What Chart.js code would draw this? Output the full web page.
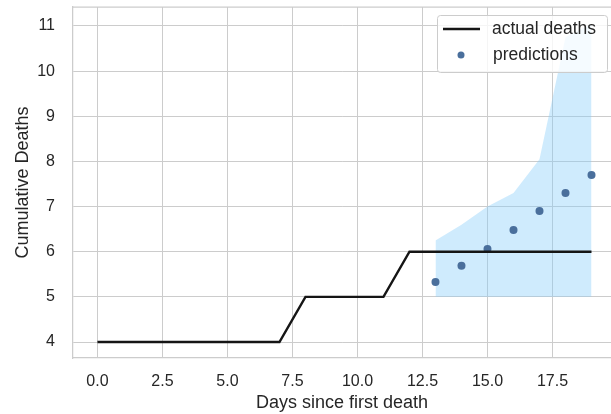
<!DOCTYPE html>
<html>
<head>
<meta charset="utf-8">
<script src="https://cdn.jsdelivr.net/npm/chart.js@4.4.1/dist/chart.umd.min.js"></script>
<style>
  html, body { margin: 0; padding: 0; background: #fff; overflow: hidden; }
  #wrap { width: 611px; height: 414px; overflow: hidden; }
</style>
</head>
<body>
<div id="wrap"><canvas id="chart" width="615" height="414"></canvas></div>
<script>
// observed cumulative deaths per day
const DAYS = [0, 1, 2, 3, 4, 5, 6, 7, 8, 9, 10, 11, 12, 13, 14, 15, 16, 17, 18, 19];
const ACTUAL_DEATHS = [4, 4, 4, 4, 4, 4, 4, 4, 5, 5, 5, 5, 6, 6, 6, 6, 6, 6, 6, 6];

// model predictions with their interval
const PRED_DAYS = [13, 14, 15, 16, 17, 18, 19];
const PREDICTIONS = [5.33, 5.69, 6.06, 6.48, 6.90, 7.30, 7.70];
const PRED_LOWER = [5, 5, 5, 5, 5, 5, 5];
const PRED_UPPER = [6.25, 6.6, 7.0, 7.3, 8.05, 10.75, 11.05];

const X_TICKS = [0, 2.5, 5, 7.5, 10, 12.5, 15, 17.5];
const Y_TICKS = [4, 5, 6, 7, 8, 9, 10, 11];

const FONT = "'Liberation Sans', Arial, sans-serif";
const TEXT_COLOR = '#262626';
const GRID_COLOR = '#cccccc';

function toPoints(xs, ys){
    return xs.map((x, i) => ({x: x, y: ys[i]}));
}

// top spine, matplotlib style
const topSpine = {
    id: 'topSpine',
    afterDatasetsDraw(chart){
        const ctx = chart.ctx;
        const area = chart.chartArea;
        ctx.save();
        ctx.strokeStyle = GRID_COLOR;
        ctx.lineWidth = 1.25;
        ctx.beginPath();
        ctx.moveTo(area.left, area.top);
        ctx.lineTo(area.right, area.top);
        ctx.stroke();
        ctx.restore();
    }
};

// boxed legend in the upper right corner
const boxLegend = {
    id: 'boxLegend',
    afterDraw(chart){
        const ctx = chart.ctx;
        const line = chart.data.datasets[0];
        const dots = chart.data.datasets[1];
        ctx.save();
        ctx.beginPath();
        ctx.roundRect(437.5, 15.5, 170, 57, 3);
        ctx.fillStyle = 'rgba(255,255,255,0.8)';
        ctx.fill();
        ctx.strokeStyle = GRID_COLOR;
        ctx.lineWidth = 1;
        ctx.stroke();

        ctx.strokeStyle = line.borderColor;
        ctx.lineWidth = line.borderWidth;
        ctx.beginPath();
        ctx.moveTo(443, 29);
        ctx.lineTo(480, 29);
        ctx.stroke();

        ctx.fillStyle = dots.backgroundColor;
        ctx.beginPath();
        ctx.arc(461, 55, 3.5, 0, Math.PI * 2);
        ctx.fill();

        ctx.fillStyle = TEXT_COLOR;
        ctx.font = '17.5px ' + FONT;
        ctx.textBaseline = 'middle';
        ctx.fillText(line.label, 492, 29);
        ctx.fillText(dots.label, 493, 55);
        ctx.restore();
    }
};

const chart = new Chart(document.getElementById('chart'), {
    type: 'line',
    data: {
        datasets: [
            {
                label: 'actual deaths',
                data: toPoints(DAYS, ACTUAL_DEATHS),
                borderColor: '#151515',
                borderWidth: 2.4,
                pointRadius: 0,
                fill: false,
                order: 0
            },
            {
                type: 'scatter',
                label: 'predictions',
                data: toPoints(PRED_DAYS, PREDICTIONS),
                backgroundColor: '#4a6f9c',
                borderWidth: 0,
                pointRadius: 4,
                order: 1
            },
            {
                label: 'lower',
                data: toPoints(PRED_DAYS, PRED_LOWER),
                borderWidth: 0,
                pointRadius: 0,
                fill: false,
                order: 2
            },
            {
                label: 'upper',
                data: toPoints(PRED_DAYS, PRED_UPPER),
                borderWidth: 0,
                pointRadius: 0,
                backgroundColor: 'rgba(135,206,250,0.4)',
                fill: '-1',
                order: 3
            }
        ]
    },
    options: {
        responsive: false,
        animation: false,
        devicePixelRatio: 1,
        layout: { padding: { top: 7, right: 0, left: 0, bottom: 0 } },
        plugins: {
            legend: { display: false },
            tooltip: { enabled: false }
        },
        scales: {
            x: {
                type: 'linear',
                min: -0.94,
                max: 19.75,
                afterBuildTicks: s => { s.ticks = X_TICKS.map(v => ({value: v})); },
                afterFit: s => {
                    s.height = 56;
                    s.paddingLeft = 0;
                    s.paddingRight = 0;
                },
                ticks: {
                    callback: v => v.toFixed(1),
                    font: { family: FONT, size: 16 },
                    color: TEXT_COLOR,
                    padding: 14,
                    maxRotation: 0
                },
                grid: { color: GRID_COLOR, lineWidth: 1, drawTicks: false },
                border: { color: GRID_COLOR, width: 1.25 },
                title: {
                    display: true,
                    text: 'Days since first death',
                    font: { family: FONT, size: 18 },
                    color: TEXT_COLOR,
                    padding: { top: 0, bottom: 0 }
                }
            },
            y: {
                min: 3.646,
                max: 11.42,
                afterBuildTicks: s => { s.ticks = Y_TICKS.map(v => ({value: v})); },
                afterFit: s => {
                    s.width = 73;
                    s.paddingTop = 0;
                    s.paddingBottom = 0;
                },
                ticks: {
                    font: { family: FONT, size: 16 },
                    color: TEXT_COLOR,
                    padding: 18
                },
                grid: { color: GRID_COLOR, lineWidth: 1, drawTicks: false },
                border: { color: GRID_COLOR, width: 1.25 },
                title: {
                    display: true,
                    text: 'Cumulative Deaths',
                    font: { family: FONT, size: 18 },
                    color: TEXT_COLOR,
                    padding: { top: 12, bottom: 0 }
                }
            }
        }
    },
    plugins: [topSpine, boxLegend]
});
</script>
</body>
</html>
